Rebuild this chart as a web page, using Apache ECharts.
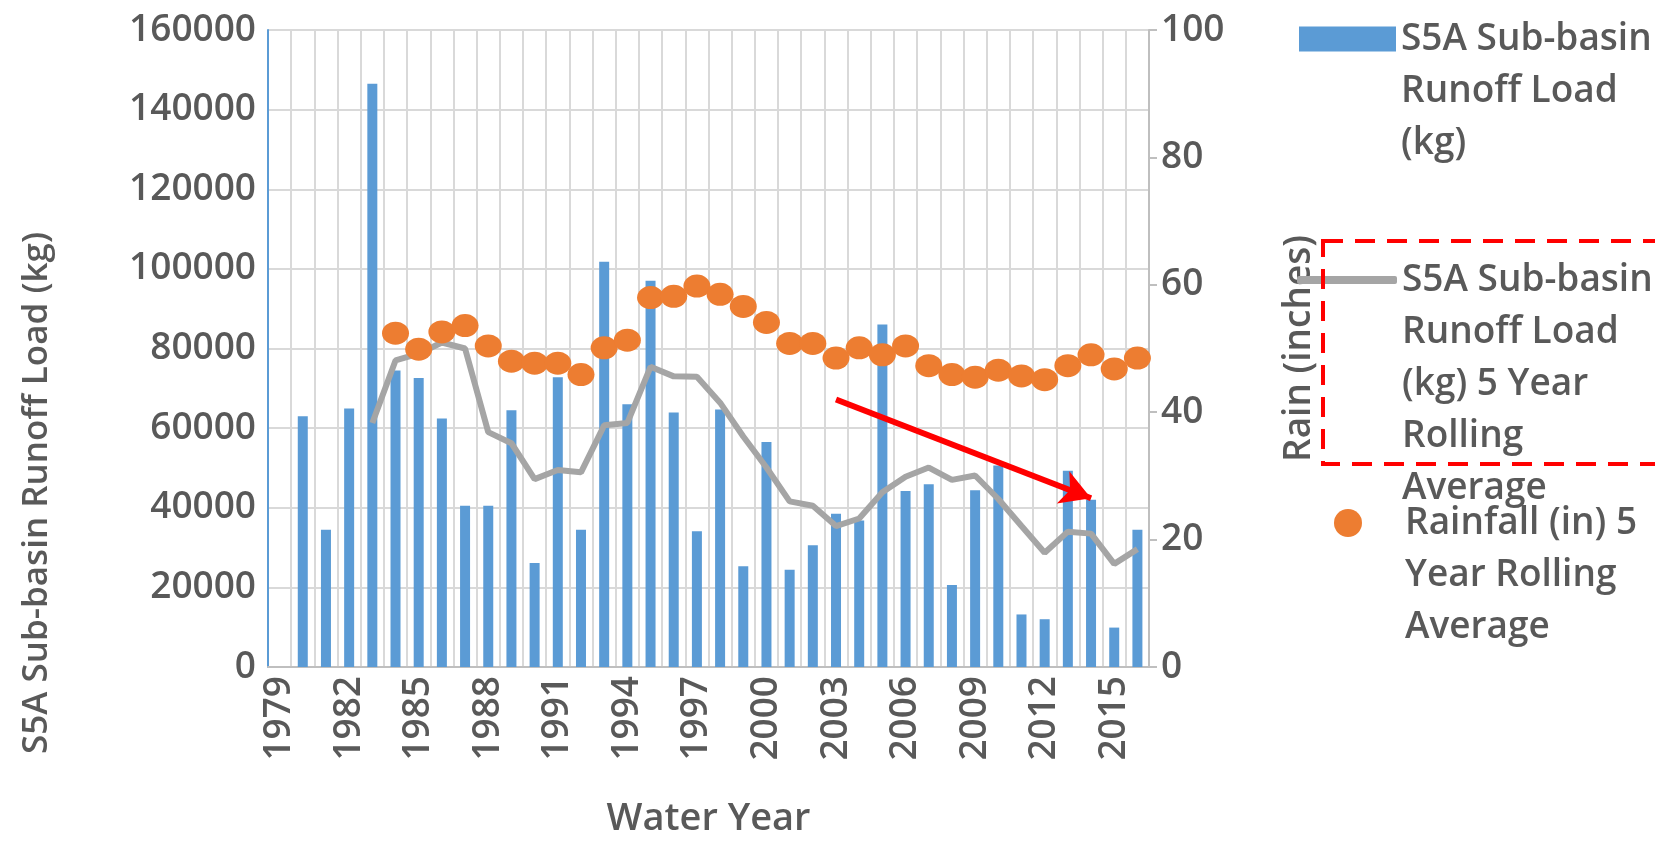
<!DOCTYPE html>
<html>
<head>
<meta charset="utf-8">
<style>
  html, body { margin: 0; padding: 0; background: #fff; }
  #main { width: 1655px; height: 845px; }
</style>
<script src="https://cdn.jsdelivr.net/npm/echarts@6.0.0/dist/echarts.min.js"></script>
</head>
<body>
<div id="main"></div>
<script>
// water years on the category axis
const years = ['1979', '1980', '1981', '1982', '1983', '1984', '1985', '1986', '1987', '1988',
  '1989', '1990', '1991', '1992', '1993', '1994', '1995', '1996', '1997', '1998',
  '1999', '2000', '2001', '2002', '2003', '2004', '2005', '2006', '2007', '2008',
  '2009', '2010', '2011', '2012', '2013', '2014', '2015', '2016'];

// S5A sub-basin runoff load (kg), one bar per year
const runoffLoad = [-800, 63000, 34500, 64900, 146500, 74500, 72600, 62400, 40500, 40500,
  64500, 26100, 72800, 34500, 101800, 66000, 97000, 63900, 34100, 64700,
  25300, 56500, 24400, 30600, 38500, 36800, 86000, 44200, 45900, 20600,
  44400, 50600, 13200, 12000, 49300, 42000, 9900, 34500];

// 5 year rolling average of the runoff load (kg)
const runoffRolling = [null, null, null, null, 61300, 77000, 78700, 81500, 80000, 59000,
  56200, 47200, 49500, 48900, 60700, 61300, 75400, 73000, 72900, 66400,
  57900, 50100, 41600, 40500, 35400, 37300, 43900, 47800, 50100, 47000,
  48100, 42200, 35400, 28700, 34000, 33500, 25900, 29600];

// 5 year rolling average of rainfall (inches), right axis
const rainRolling = [null, null, null, null, null, 52.4, 49.9, 52.6, 53.6, 50.4,
  48.0, 47.7, 47.7, 45.9, 50.1, 51.3, 58.0, 58.2, 59.8, 58.5,
  56.6, 54.1, 50.8, 50.8, 48.5, 50.1, 49.0, 50.4, 47.3, 45.9,
  45.5, 46.6, 45.7, 45.1, 47.3, 49.0, 46.8, 48.5];

// red trend arrow drawn on the chart: [year, kg]
const arrowFrom = ['2003', 67200];
const arrowTo = ['2014', 42400];

const NAME_BAR = 'S5A Sub-basin Runoff Load (kg)';
const NAME_LINE = 'S5A Sub-basin Runoff Load (kg) 5 Year Rolling Average';
const NAME_DOT = 'Rainfall (in) 5 Year Rolling Average';
const legendLines = {};
legendLines[NAME_BAR] = ['S5A Sub-basin', 'Runoff Load', '(kg)'];
legendLines[NAME_LINE] = ['S5A Sub-basin', 'Runoff Load', '(kg) 5 Year', 'Rolling', 'Average'];
legendLines[NAME_DOT] = ['Rainfall (in) 5', 'Year Rolling', 'Average'];

const FONT = 'Open Sans';
const TXT = '#595959';
const FW = 600;
const FS = 37;
const LH = 52;

// legend text is centred on its icon, so blank lines are put in front
// to bring the first real line level with the icon
function legendFor(name, firstLineY, left, opts) {
  const lines = legendLines[name];
  const n = lines.length;
  return Object.assign({
    data: [name],
    orient: 'vertical',
    left: left,
    top: firstLineY - (2 * n - 1) * LH / 2,
    padding: 0,
    selectedMode: false,
    formatter: () => '\n'.repeat(n - 1) + lines.join('\n'),
    textStyle: { fontFamily: FONT, fontSize: FS, fontWeight: FW, color: TXT, lineHeight: LH }
  }, opts);
}

const chart = echarts.init(document.getElementById('main'));
chart.setOption({
  animation: false,
  backgroundColor: '#fff',
  grid: { left: 268, right: 506, top: 30, bottom: 178 },
  legend: [
    legendFor(NAME_BAR, 39, 1299, { icon: 'rect', itemWidth: 97, itemHeight: 25 }),
    legendFor(NAME_LINE, 280, 1297, { icon: 'roundRect', itemWidth: 100, itemHeight: 8 }),
    legendFor(NAME_DOT, 523, 1334, { icon: 'circle', itemWidth: 104, itemHeight: 28 })
  ],
  xAxis: {
    type: 'category',
    data: years,
    name: 'Water Year',
    nameLocation: 'middle',
    nameGap: 133,
    nameTextStyle: { fontFamily: FONT, fontSize: 38, fontWeight: FW, color: TXT },
    axisLine: { lineStyle: { color: '#BFBFBF', width: 2 } },
    axisTick: { show: false },
    axisLabel: {
      interval: 2, rotate: 90, margin: 9,
      fontFamily: FONT, fontSize: FS, fontWeight: FW, color: TXT
    },
    splitLine: { show: true, interval: 0, lineStyle: { color: '#D9D9D9', width: 2 } }
  },
  yAxis: [
    {
      type: 'value',
      min: 0, max: 160000, interval: 20000,
      axisLine: { show: true, lineStyle: { color: '#5B9BD5', width: 2 } },
      axisTick: { show: false },
      axisLabel: {
        margin: 12, fontFamily: FONT, fontSize: FS, fontWeight: FW, color: TXT,
        formatter: v => String(v)
      },
      splitLine: { lineStyle: { color: '#D9D9D9', width: 2 } }
    },
    {
      type: 'value',
      min: 0, max: 100, interval: 20,
      position: 'right',
      name: 'Rain (inches)',
      nameLocation: 'middle',
      nameRotate: 90,
      nameGap: 132,
      nameTextStyle: { fontFamily: FONT, fontSize: FS, fontWeight: FW, color: TXT },
      axisLine: { show: true, lineStyle: { color: '#BFBFBF', width: 2 } },
      axisTick: { show: true, length: 8, lineStyle: { color: '#BFBFBF', width: 2 } },
      axisLabel: { margin: 12, fontFamily: FONT, fontSize: FS, fontWeight: FW, color: TXT },
      splitLine: { show: false }
    }
  ],
  series: [
    {
      name: NAME_BAR,
      type: 'bar',
      data: runoffLoad,
      barWidth: 10,
      itemStyle: { color: '#5B9BD5' },
      z: 2,
      markLine: {
        silent: true,
        symbol: ['none', 'arrow'],
        symbolSize: [26, 30],
        label: { show: false },
        lineStyle: { color: '#FF0000', width: 6, type: 'solid' },
        data: [[{ coord: arrowFrom }, { coord: arrowTo }]],
        z: 10
      }
    },
    {
      name: NAME_LINE,
      type: 'line',
      data: runoffRolling,
      showSymbol: false,
      symbol: 'none',
      lineStyle: { color: '#A5A5A5', width: 6 },
      itemStyle: { color: '#A5A5A5' },
      z: 3
    },
    {
      name: NAME_DOT,
      type: 'scatter',
      yAxisIndex: 1,
      data: rainRolling,
      symbol: 'circle',
      symbolSize: [27, 23],
      itemStyle: { color: '#ED7D31', opacity: 1 },
      z: 4
    }
  ],
  graphic: [
    {
      type: 'text',
      x: 37, y: 493,
      rotation: Math.PI / 2,
      style: {
        text: 'S5A Sub-basin Runoff Load (kg)',
        fontFamily: FONT, fontSize: 35, fontWeight: FW, fill: TXT,
        align: 'center', verticalAlign: 'middle'
      }
    },
    {
      type: 'rect',
      shape: { x: 1323, y: 241, width: 345, height: 223 },
      style: { fill: 'none', stroke: '#FF0000', lineWidth: 4, lineDash: [20, 12] },
      z: 100
    }
  ]
});
</script>
</body>
</html>
